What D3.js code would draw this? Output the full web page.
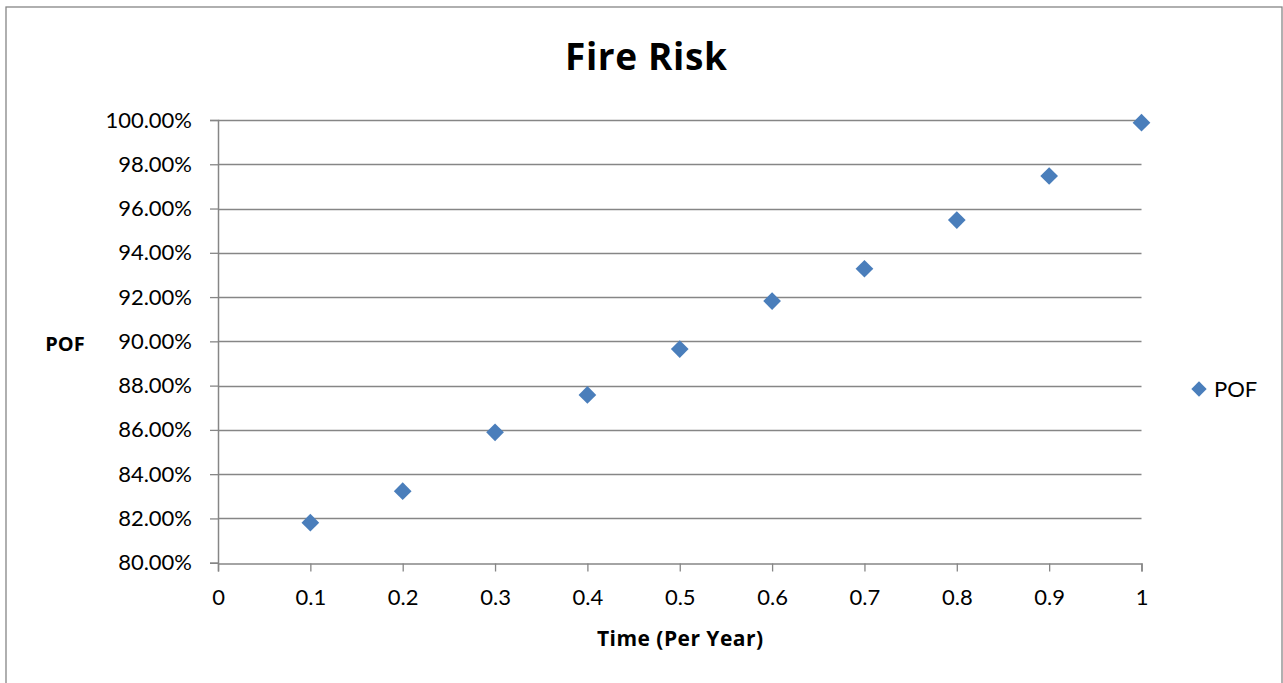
<!DOCTYPE html>
<html>
<head>
<meta charset="utf-8">
<script src="https://cdn.jsdelivr.net/npm/d3@7"></script>
<style>
  html, body { margin: 0; padding: 0; background: #fff; }
  svg { display: block; }
</style>
</head>
<body>
<svg id="chart" width="1283" height="683"></svg>
<script>
// Fire risk: probability of failure over time
const times = [0.1, 0.2, 0.3, 0.4, 0.5, 0.6, 0.7, 0.8, 0.9, 1.0];
const pofValues = [0.8181, 0.8323, 0.8589, 0.8758, 0.8965, 0.9182, 0.9328, 0.9548, 0.9747, 0.9988];
const xTicks = [0, 0.1, 0.2, 0.3, 0.4, 0.5, 0.6, 0.7, 0.8, 0.9, 1];
const yTicks = [0.80, 0.82, 0.84, 0.86, 0.88, 0.90, 0.92, 0.94, 0.96, 0.98, 1.00];
const seriesName = "POF";
const chartTitle = "Fire Risk";
const xTitle = "Time (Per Year)";
const yTitle = "POF";

const svg = d3.select("#chart");
const markerColor = "#4a7ebb";
const gridColor = "#868686";
const tickFont = 22;
const bodyFamily = "Lato, 'Open Sans', sans-serif";
const titleFamily = "'Open Sans', Lato, sans-serif";

// chart frame
svg.append("rect")
  .attr("x", 6).attr("y", 7).attr("width", 1276).attr("height", 690)
  .attr("fill", "#fff").attr("stroke", gridColor).attr("stroke-width", 1.3);

const x = d3.scaleLinear().domain([0, 1]).range([218, 1141.5]);
const y = d3.scaleLinear().domain([0.80, 1.00]).range([562.7, 120]);

// horizontal gridlines
svg.append("g").selectAll("line").data(yTicks.slice(1)).join("line")
  .attr("x1", x(0)).attr("x2", x(1))
  .attr("y1", d => Math.round(y(d)) + 0.5).attr("y2", d => Math.round(y(d)) + 0.5)
  .attr("stroke", gridColor).attr("stroke-width", 1.3);

// y axis
const yAxis = d3.axisLeft(y).tickValues(yTicks)
  .tickFormat(d3.format(".2%")).tickSize(8).tickPadding(18);
const gy = svg.append("g")
  .attr("transform", `translate(${x(0)},0)`)
  .call(yAxis);
gy.select(".domain").attr("stroke", gridColor).attr("stroke-width", 1.5);
gy.selectAll(".tick line").attr("stroke", gridColor).attr("stroke-width", 1.3);
gy.selectAll(".tick text").style("font-size", tickFont + "px").style("font-family", bodyFamily).attr("fill", "#000");

// x axis
const xAxis = d3.axisBottom(x).tickValues(xTicks)
  .tickFormat(d => d3.format("")(d)).tickSize(8).tickPadding(18);
const gx = svg.append("g")
  .attr("transform", `translate(0,${Math.round(y(0.80)) + 0.5})`)
  .call(xAxis);
gx.select(".domain").attr("stroke", gridColor).attr("stroke-width", 1.5);
gx.selectAll(".tick line").attr("stroke", gridColor).attr("stroke-width", 1.3);
gx.selectAll(".tick text").style("font-size", tickFont + "px").style("font-family", bodyFamily).attr("fill", "#000");

// data markers
const diamond = d3.symbol().type(d3.symbolDiamond2).size(200);
svg.append("g").selectAll("path").data(times.map((t, i) => [t, pofValues[i]])).join("path")
  .attr("d", diamond)
  .attr("transform", d => `translate(${x(d[0])},${y(d[1])})`)
  .attr("fill", markerColor);

// titles
svg.append("text").attr("x", 646).attr("y", 70).attr("text-anchor", "middle")
  .style("font-family", titleFamily).style("font-size", "37px").style("font-weight", "bold")
  .attr("textLength", 162).attr("lengthAdjust", "spacing").text(chartTitle);
svg.append("text").attr("x", 680).attr("y", 646).attr("text-anchor", "middle")
  .style("font-family", titleFamily).style("font-size", "21px").style("font-weight", "bold")
  .attr("textLength", 166).attr("lengthAdjust", "spacing").text(xTitle);
svg.append("text").attr("x", 65).attr("y", 351).attr("text-anchor", "middle")
  .style("font-family", titleFamily).style("font-size", "20px").style("font-weight", "bold")
  .text(yTitle);

// legend
const lg = svg.append("g").attr("transform", "translate(1199,389)");
lg.append("path").attr("d", d3.symbol().type(d3.symbolDiamond2).size(150)).attr("fill", markerColor);
lg.append("text").attr("x", 15).attr("y", 7.5)
  .style("font-family", bodyFamily).style("font-size", tickFont + "px").text(seriesName);
</script>
</body>
</html>
